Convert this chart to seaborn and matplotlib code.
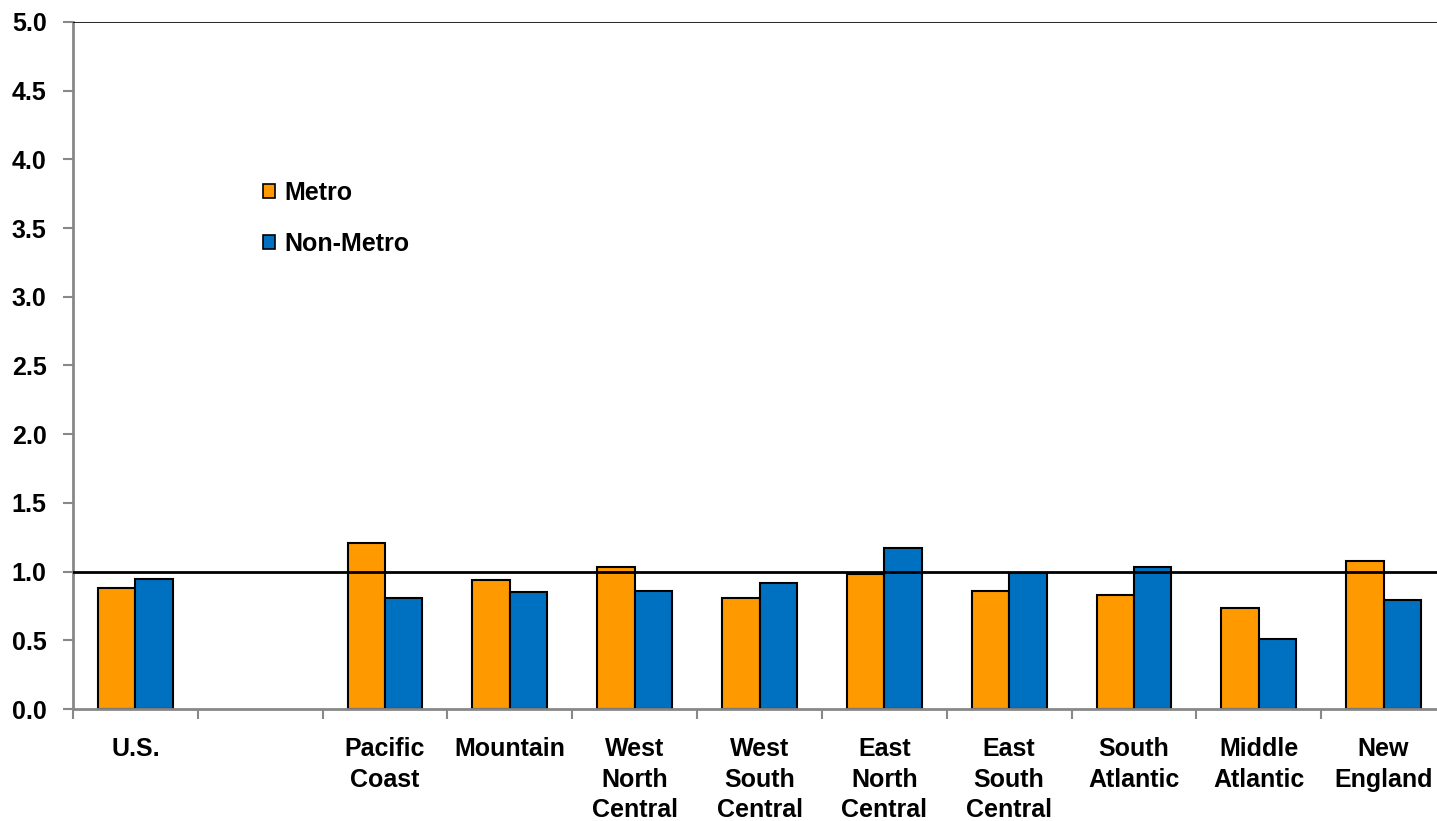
import pandas as pd
import numpy as np
import matplotlib

matplotlib.use('Agg')

import matplotlib.pyplot as plt
import seaborn as sns

sns.set_style("white")
plt.rcParams['font.family'] = ['Liberation Sans', 'DejaVu Sans']
plt.rcParams['font.weight'] = 'bold'
plt.rcParams['text.color'] = 'black'
plt.rcParams['xtick.labelcolor'] = 'black'
plt.rcParams['ytick.labelcolor'] = 'black'

# data
regions = ['U.S.', ' ', 'Pacific\nCoast', 'Mountain', 'West\nNorth\nCentral',
           'West\nSouth\nCentral', 'East\nNorth\nCentral', 'East\nSouth\nCentral',
           'South\nAtlantic', 'Middle\nAtlantic', 'New\nEngland']
metro = [0.88, np.nan, 1.21, 0.94, 1.03, 0.81, 0.98, 0.86, 0.83, 0.735, 1.08]
non_metro = [0.945, np.nan, 0.81, 0.85, 0.86, 0.92, 1.17, 0.99, 1.035, 0.51, 0.79]
series = ['Metro', 'Non-Metro']
colors = ['#FF9900', '#0070C0']

df = pd.DataFrame({
    'region': regions * 2,
    'type': [series[0]] * len(regions) + [series[1]] * len(regions),
    'value': metro + non_metro,
})

fig = plt.figure(figsize=(14.37, 8.21), dpi=100)
ax = fig.add_axes([73 / 1437, 112 / 821, 1373 / 1437, 687 / 821])

sns.barplot(data=df, x='region', y='value', hue='type', order=regions,
            hue_order=series, palette=colors, saturation=1, width=0.6,
            edgecolor='black', linewidth=1.5, ax=ax)

ax.axhline(1.0, color='black', lw=2, zorder=5)
ax.axhline(5.0, color='black', lw=1.2, zorder=5)

ax.set_xlim(-0.5, len(regions) - 0.5)
ax.set_ylim(0, 5)
ax.set_yticks(np.arange(0, 5.01, 0.5))
ax.set_yticklabels([f'{v:.1f}' for v in np.arange(0, 5.01, 0.5)],
                   fontsize=18, fontweight='bold')
ax.set_xticks(range(len(regions)))
ax.set_xticklabels(regions, fontsize=18, fontweight='bold', linespacing=1.36,
                   va='top')
ax.set_xticks(np.arange(-0.5, len(regions), 1.0), minor=True)
ax.tick_params(axis='x', which='major', length=0, pad=20)
ax.tick_params(axis='x', which='minor', length=7, width=1.5, color='#888888',
               direction='out', bottom=True)
ax.tick_params(axis='y', length=7, width=1.5, color='#888888', direction='out',
               left=True, pad=12)

for side in ['top', 'right']:
    ax.spines[side].set_visible(False)
for side in ['left', 'bottom']:
    ax.spines[side].set_color('#888888')
    ax.spines[side].set_linewidth(2)

ax.set_xlabel('')
ax.set_ylabel('')

leg = ax.legend(loc='upper left', bbox_to_anchor=(0.131, 0.783), frameon=False,
                fontsize=18, handlelength=0.5, handleheight=0.45,
                handletextpad=0.36, labelspacing=1.07, borderaxespad=0)
for h in leg.legend_handles:
    h.set_edgecolor('black')
    h.set_linewidth(1.2)
for t in leg.get_texts():
    t.set_fontweight('bold')

plt.savefig('out.png', dpi=100)
